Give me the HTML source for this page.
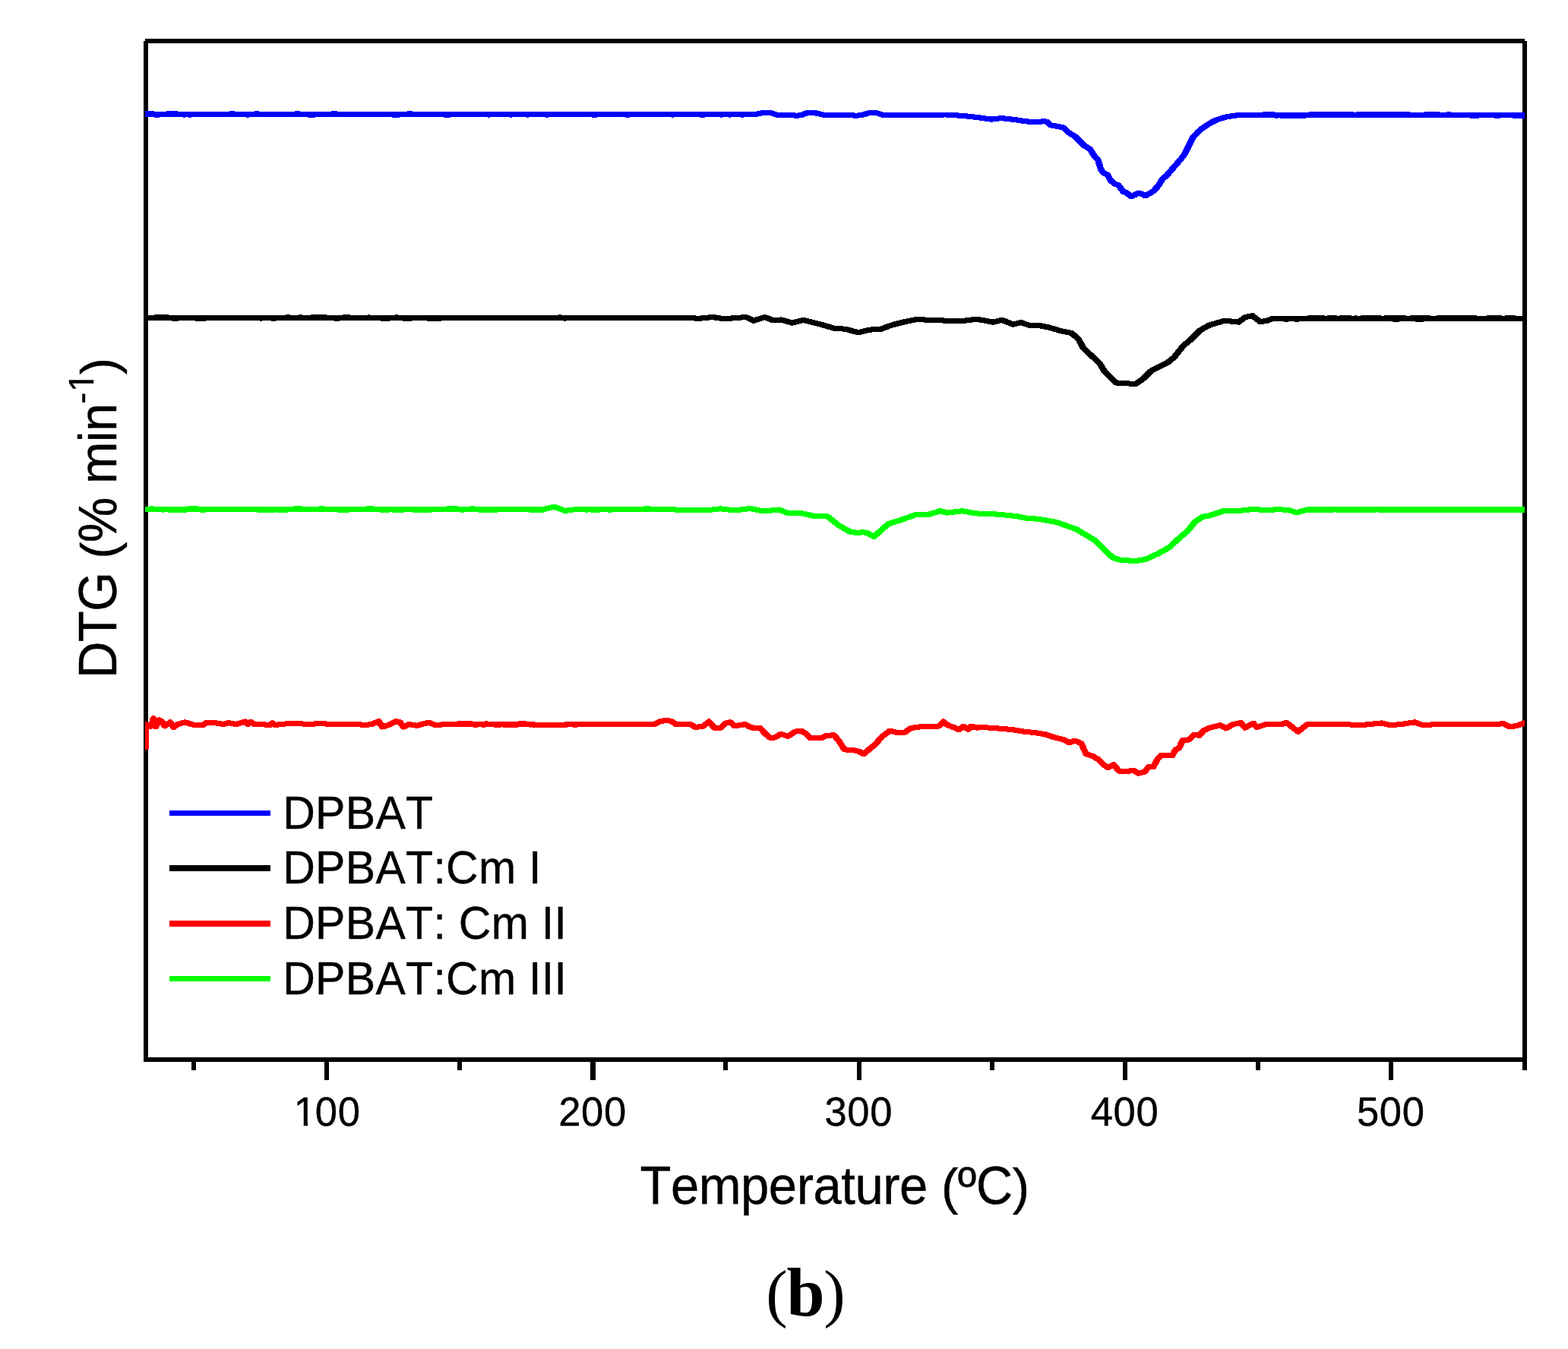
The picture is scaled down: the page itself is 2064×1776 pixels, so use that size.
<!DOCTYPE html>
<html lang="en">
<head>
<meta charset="utf-8">
<title>DTG curves (b)</title>
<style>
html,body{margin:0;padding:0;background:#fff;}
body{width:2064px;height:1776px;overflow:hidden;}
svg{display:block;}
text{font-family:"Liberation Sans",sans-serif;fill:#000;font-kerning:none;stroke:#000;stroke-width:0.4px;stroke-linejoin:round;}
text.cap{font-family:"Liberation Serif","DejaVu Serif",serif;stroke:none;}
</style>
</head>
<body>
<svg width="2064" height="1776" viewBox="0 0 2064 1776">
<rect x="0" y="0" width="2064" height="1776" fill="#fff"/>
<g fill="#000" shape-rendering="crispEdges">
<rect x="191" y="51" width="1816" height="6"/>
<rect x="189" y="54" width="6" height="1344"/>
<rect x="2004" y="54" width="6" height="1355"/>
<rect x="189" y="1392" width="1821" height="6"/>
<rect x="252" y="1395" width="6" height="14"/>
<rect x="427" y="1395" width="6" height="27"/>
<rect x="602" y="1395" width="6" height="14"/>
<rect x="777" y="1395" width="7" height="27"/>
<rect x="952" y="1395" width="6" height="14"/>
<rect x="1128" y="1395" width="6" height="27"/>
<rect x="1303" y="1395" width="6" height="14"/>
<rect x="1478" y="1395" width="6" height="27"/>
<rect x="1653" y="1395" width="6" height="14"/>
<rect x="1828" y="1395" width="6" height="27"/>
</g>
<clipPath id="one_tk"><path d="M-5,-52.60 H52.60 V-4.73 H18.18 V2 H12.93 V-4.73 H-5 Z"/></clipPath>
<clipPath id="one_sup"><path d="M-5,-44.70 H44.70 V-4.14 H15.49 V2 H10.94 V-4.14 H-5 Z"/></clipPath>
<clipPath id="plotclip"><rect x="191" y="57" width="1816" height="1335"/></clipPath>
<g shape-rendering="crispEdges" clip-path="url(#plotclip)">
<g fill="none" stroke="#0000ff" stroke-width="7" stroke-linejoin="round" stroke-linecap="round">
<polyline points="185,150.2 996,150.3 1005,148.4 1014,148.4 1022,151 1040,151 1048,152.4 1055,151.5 1063,148.4 1072,148.4 1084,151.3 1118,151.3 1127,152.4 1136,151 1145,148.4 1153,148.4 1162,151.3 1246,151 1267,152.4 1284,154.2 1305,157.1 1318,155.6 1337,157.7 1350,159.8 1362.4,160.7 1373.3,159.8 1377.9,160.2 1383.3,164.9 1390.3,166 1399.6,168 1407.4,175 1415.1,179.6 1427.5,192 1434.5,195.9 1439.9,204.4 1445.3,210.6 1449.2,223 1452.3,227.7 1457.8,230 1461.6,237 1466.3,241.6 1472.5,244 1478.7,252.5 1483.3,254 1488.8,258.7 1494.2,256.4 1498.8,254 1503.5,255.6 1507.4,257.9 1512.8,254.8 1518.2,251.7 1525.2,244 1529.8,236.2 1536,230.8 1545.3,219.9 1554.7,209.1 1559.3,202.9 1565.5,190.5 1570.2,181.2 1576.4,174.2 1582.6,168.8 1591.9,162.6 1601.2,157.9 1613.6,154 1629.1,151.7 1644.6,151.4 1660.1,151.4 1670,151.4 2012,151.4"/>
<polyline transform="translate(-0.7,0)" points="185,150.2 996,150.3 1005,148.4 1014,148.4 1022,151 1040,151 1048,152.4 1055,151.5 1063,148.4 1072,148.4 1084,151.3 1118,151.3 1127,152.4 1136,151 1145,148.4 1153,148.4 1162,151.3 1246,151 1267,152.4 1284,154.2 1305,157.1 1318,155.6 1337,157.7 1350,159.8 1362.4,160.7 1373.3,159.8 1377.9,160.2 1383.3,164.9 1390.3,166 1399.6,168 1407.4,175 1415.1,179.6 1427.5,192 1434.5,195.9 1439.9,204.4 1445.3,210.6 1449.2,223 1452.3,227.7 1457.8,230 1461.6,237 1466.3,241.6 1472.5,244 1478.7,252.5 1483.3,254 1488.8,258.7 1494.2,256.4 1498.8,254 1503.5,255.6 1507.4,257.9 1512.8,254.8 1518.2,251.7 1525.2,244 1529.8,236.2 1536,230.8 1545.3,219.9 1554.7,209.1 1559.3,202.9 1565.5,190.5 1570.2,181.2 1576.4,174.2 1582.6,168.8 1591.9,162.6 1601.2,157.9 1613.6,154 1629.1,151.7 1644.6,151.4 1660.1,151.4 1670,151.4 2012,151.4"/>
<polyline transform="translate(0.7,0)" points="185,150.2 996,150.3 1005,148.4 1014,148.4 1022,151 1040,151 1048,152.4 1055,151.5 1063,148.4 1072,148.4 1084,151.3 1118,151.3 1127,152.4 1136,151 1145,148.4 1153,148.4 1162,151.3 1246,151 1267,152.4 1284,154.2 1305,157.1 1318,155.6 1337,157.7 1350,159.8 1362.4,160.7 1373.3,159.8 1377.9,160.2 1383.3,164.9 1390.3,166 1399.6,168 1407.4,175 1415.1,179.6 1427.5,192 1434.5,195.9 1439.9,204.4 1445.3,210.6 1449.2,223 1452.3,227.7 1457.8,230 1461.6,237 1466.3,241.6 1472.5,244 1478.7,252.5 1483.3,254 1488.8,258.7 1494.2,256.4 1498.8,254 1503.5,255.6 1507.4,257.9 1512.8,254.8 1518.2,251.7 1525.2,244 1529.8,236.2 1536,230.8 1545.3,219.9 1554.7,209.1 1559.3,202.9 1565.5,190.5 1570.2,181.2 1576.4,174.2 1582.6,168.8 1591.9,162.6 1601.2,157.9 1613.6,154 1629.1,151.7 1644.6,151.4 1660.1,151.4 1670,151.4 2012,151.4"/>
</g>
<g fill="none" stroke="#000000" stroke-width="7" stroke-linejoin="round" stroke-linecap="round">
<polyline points="185,418.7 905,418.7 920.8,419.2 938.3,417.5 952.8,419.8 981.9,417.5 992,422.2 1006.6,417.5 1018.2,421.9 1028.4,421 1042.9,425.1 1057.4,421.3 1080.7,427.1 1098.1,432.3 1112.7,433.2 1130.1,437.8 1144.7,434.1 1159.2,433.5 1173.7,428 1191.2,423.6 1208.6,420.1 1226,421.9 1269.7,422.2 1285.6,420.1 1307.4,424.2 1319.1,421.3 1333.6,427.1 1343.8,424.5 1354,428 1365.5,428 1381,431.1 1396.5,435.7 1410.5,438.5 1419.8,446.6 1426,458.2 1438.4,469.8 1447.7,478.4 1453.9,489.2 1469.4,504 1481.8,504.4 1494.2,506 1505,498.5 1514.3,489.2 1520.5,485.3 1537.6,476.8 1545.3,470.6 1557.8,455.1 1567.1,447.4 1579.5,435 1591.9,428 1612,422.2 1630.6,424.1 1638.4,417.9 1648.4,415.6 1658.5,423.3 1667.2,422.7 1675.3,419.1 2012,419.1"/>
<polyline transform="translate(-0.7,0)" points="185,418.7 905,418.7 920.8,419.2 938.3,417.5 952.8,419.8 981.9,417.5 992,422.2 1006.6,417.5 1018.2,421.9 1028.4,421 1042.9,425.1 1057.4,421.3 1080.7,427.1 1098.1,432.3 1112.7,433.2 1130.1,437.8 1144.7,434.1 1159.2,433.5 1173.7,428 1191.2,423.6 1208.6,420.1 1226,421.9 1269.7,422.2 1285.6,420.1 1307.4,424.2 1319.1,421.3 1333.6,427.1 1343.8,424.5 1354,428 1365.5,428 1381,431.1 1396.5,435.7 1410.5,438.5 1419.8,446.6 1426,458.2 1438.4,469.8 1447.7,478.4 1453.9,489.2 1469.4,504 1481.8,504.4 1494.2,506 1505,498.5 1514.3,489.2 1520.5,485.3 1537.6,476.8 1545.3,470.6 1557.8,455.1 1567.1,447.4 1579.5,435 1591.9,428 1612,422.2 1630.6,424.1 1638.4,417.9 1648.4,415.6 1658.5,423.3 1667.2,422.7 1675.3,419.1 2012,419.1"/>
<polyline transform="translate(0.7,0)" points="185,418.7 905,418.7 920.8,419.2 938.3,417.5 952.8,419.8 981.9,417.5 992,422.2 1006.6,417.5 1018.2,421.9 1028.4,421 1042.9,425.1 1057.4,421.3 1080.7,427.1 1098.1,432.3 1112.7,433.2 1130.1,437.8 1144.7,434.1 1159.2,433.5 1173.7,428 1191.2,423.6 1208.6,420.1 1226,421.9 1269.7,422.2 1285.6,420.1 1307.4,424.2 1319.1,421.3 1333.6,427.1 1343.8,424.5 1354,428 1365.5,428 1381,431.1 1396.5,435.7 1410.5,438.5 1419.8,446.6 1426,458.2 1438.4,469.8 1447.7,478.4 1453.9,489.2 1469.4,504 1481.8,504.4 1494.2,506 1505,498.5 1514.3,489.2 1520.5,485.3 1537.6,476.8 1545.3,470.6 1557.8,455.1 1567.1,447.4 1579.5,435 1591.9,428 1612,422.2 1630.6,424.1 1638.4,417.9 1648.4,415.6 1658.5,423.3 1667.2,422.7 1675.3,419.1 2012,419.1"/>
</g>
<g fill="none" stroke="#00ff00" stroke-width="7" stroke-linejoin="round" stroke-linecap="round">
<polyline points="185,670.7 715,670.7 729.2,667.2 743.8,672.4 756.9,670.7 848.1,670.1 929.5,671.9 948.4,669.8 967.3,671.9 987.7,669.5 1005.1,673 1025.5,671 1037.1,675.6 1054.5,675.6 1072,679.4 1089.4,680 1104,691.6 1118.5,699.8 1128.7,701.8 1135.9,700.6 1141.7,701.8 1150.5,706.5 1169.4,689.6 1188.3,683.8 1205.7,677.4 1220.2,678 1237.7,672.7 1246.4,675.1 1266.7,672.7 1284.2,675.9 1313.3,677.1 1336.5,679.4 1350,682 1367,683.3 1390.3,687.4 1416.7,696.7 1441.5,711.5 1457,727 1464.7,734 1474,737.1 1494.2,738.6 1508.1,736.3 1523.6,729.3 1539.1,720.8 1551.6,709.1 1564,698.3 1573.3,686.7 1582.6,680.5 1591.9,678.9 1610.5,672.7 1629.1,672.7 1644.6,670.9 1657,670.9 1663.2,671.9 1681.4,670.7 1695.6,671.3 1706.8,674.8 1722.1,670.7 2012,670.7"/>
<polyline transform="translate(-0.7,0)" points="185,670.7 715,670.7 729.2,667.2 743.8,672.4 756.9,670.7 848.1,670.1 929.5,671.9 948.4,669.8 967.3,671.9 987.7,669.5 1005.1,673 1025.5,671 1037.1,675.6 1054.5,675.6 1072,679.4 1089.4,680 1104,691.6 1118.5,699.8 1128.7,701.8 1135.9,700.6 1141.7,701.8 1150.5,706.5 1169.4,689.6 1188.3,683.8 1205.7,677.4 1220.2,678 1237.7,672.7 1246.4,675.1 1266.7,672.7 1284.2,675.9 1313.3,677.1 1336.5,679.4 1350,682 1367,683.3 1390.3,687.4 1416.7,696.7 1441.5,711.5 1457,727 1464.7,734 1474,737.1 1494.2,738.6 1508.1,736.3 1523.6,729.3 1539.1,720.8 1551.6,709.1 1564,698.3 1573.3,686.7 1582.6,680.5 1591.9,678.9 1610.5,672.7 1629.1,672.7 1644.6,670.9 1657,670.9 1663.2,671.9 1681.4,670.7 1695.6,671.3 1706.8,674.8 1722.1,670.7 2012,670.7"/>
<polyline transform="translate(0.7,0)" points="185,670.7 715,670.7 729.2,667.2 743.8,672.4 756.9,670.7 848.1,670.1 929.5,671.9 948.4,669.8 967.3,671.9 987.7,669.5 1005.1,673 1025.5,671 1037.1,675.6 1054.5,675.6 1072,679.4 1089.4,680 1104,691.6 1118.5,699.8 1128.7,701.8 1135.9,700.6 1141.7,701.8 1150.5,706.5 1169.4,689.6 1188.3,683.8 1205.7,677.4 1220.2,678 1237.7,672.7 1246.4,675.1 1266.7,672.7 1284.2,675.9 1313.3,677.1 1336.5,679.4 1350,682 1367,683.3 1390.3,687.4 1416.7,696.7 1441.5,711.5 1457,727 1464.7,734 1474,737.1 1494.2,738.6 1508.1,736.3 1523.6,729.3 1539.1,720.8 1551.6,709.1 1564,698.3 1573.3,686.7 1582.6,680.5 1591.9,678.9 1610.5,672.7 1629.1,672.7 1644.6,670.9 1657,670.9 1663.2,671.9 1681.4,670.7 1695.6,671.3 1706.8,674.8 1722.1,670.7 2012,670.7"/>
</g>
<g fill="none" stroke="#ff0000" stroke-width="7" stroke-linejoin="round" stroke-linecap="round">
<polyline points="191.7,983.9 191.7,953.5 195.5,956.4 199,956.2 201.9,945.7 205.2,956.6 209.4,947.9 213,949.9 217,955.9 224,950.8 228.5,957.6 234,953.5 243.5,950.8 252,953.5 258,955.0 267.2,954.7 271.8,951.3 282.7,951.6 293.5,953.5 301.3,951.6 310.6,953.5 323,950.0 326.1,953.5 330,950.3 334.6,953.5 346.2,953.5 354.8,955.0 358.6,951.9 362.5,954.7 367.9,953.5 386.6,952.3 406.7,953.5 423.8,952.3 433.1,953.5 473.4,953.5 478,955.0 488.9,953.5 498.5,949.7 503.2,957.0 510.2,955.0 521,949.7 526.4,950.8 531.1,957.0 538.1,953.5 548.9,955.4 555.1,953.5 564.4,951.3 573.7,954.7 586.1,953.5 598.5,953.5 610.9,953.5 629.5,953.5 683.8,953.5 730.3,954.7 753.6,953.5 810,953.5 862,953.5 868.2,950.0 877.5,948.2 883.7,949.7 889.9,953.5 908.5,953.5 915.5,957.5 925.6,956.2 933.3,950.0 940.3,958.1 948.8,958.1 955,952.3 961.2,950.8 967.4,955.9 980.6,953.5 986,956.5 993.8,959.0 1000,958.1 1007.8,966.3 1014,971.4 1020.2,970.9 1027.9,966.3 1037.2,969.4 1046.5,963.2 1054.3,962.1 1060.5,965.5 1066.7,971.4 1082.2,971.4 1088.4,968.3 1097.7,967.8 1103.9,974.8 1111.6,986.9 1123.3,987.5 1131,989.5 1137.2,992.6 1145,985.7 1152.7,979.5 1160.5,970.2 1171.3,962.1 1180.6,964.3 1191.5,964.0 1199.2,958.5 1213.2,956.5 1227.1,957.0 1236.4,955.9 1241.9,950.0 1247.3,954.7 1255,957.5 1262,960.9 1268.2,956.2 1274.4,960.1 1278.3,956.2 1286,958.1 1293.8,957.5 1314,959.0 1332.6,960.6 1348.1,963.2 1363.6,964.7 1376,966.8 1386.8,970.5 1400.5,973.8 1407.5,977.9 1414.8,975.1 1423.4,978.7 1429.6,992.6 1438.9,995.7 1446.7,1000.4 1452.9,1007.1 1458.3,1010.5 1466,1006.6 1473,1015.1 1479.2,1015.9 1488.5,1014.8 1493,1014.6 1498.6,1018.2 1507.1,1015.9 1511.8,1009.7 1518,1009.7 1524.2,998.8 1528.8,994.2 1542.8,995.0 1547.4,987.2 1552.1,984.9 1556.7,974.8 1564.5,974.0 1572.2,967.1 1578.4,968.3 1584.7,961.6 1592.4,958.1 1606.4,954.7 1614.1,959.0 1623.4,953.5 1633.5,951.6 1638.9,958.1 1649.8,952.3 1654.4,957.5 1666.8,953.5 1687,953.5 1693.5,951.4 1708.6,963.2 1721,953.5 1748.9,953.5 1767.5,953.5 1790.8,954.7 1818.7,951.9 1829.5,954.7 1845,953.5 1862.1,950.8 1872.9,954.7 1891.6,953.5 1938.1,953.5 1972.2,953.5 1978.4,952.3 1987.7,957.0 1997,955.4 2006.3,951.9 2012,951.9"/>
<polyline transform="translate(-0.7,0)" points="191.7,983.9 191.7,953.5 195.5,956.4 199,956.2 201.9,945.7 205.2,956.6 209.4,947.9 213,949.9 217,955.9 224,950.8 228.5,957.6 234,953.5 243.5,950.8 252,953.5 258,955.0 267.2,954.7 271.8,951.3 282.7,951.6 293.5,953.5 301.3,951.6 310.6,953.5 323,950.0 326.1,953.5 330,950.3 334.6,953.5 346.2,953.5 354.8,955.0 358.6,951.9 362.5,954.7 367.9,953.5 386.6,952.3 406.7,953.5 423.8,952.3 433.1,953.5 473.4,953.5 478,955.0 488.9,953.5 498.5,949.7 503.2,957.0 510.2,955.0 521,949.7 526.4,950.8 531.1,957.0 538.1,953.5 548.9,955.4 555.1,953.5 564.4,951.3 573.7,954.7 586.1,953.5 598.5,953.5 610.9,953.5 629.5,953.5 683.8,953.5 730.3,954.7 753.6,953.5 810,953.5 862,953.5 868.2,950.0 877.5,948.2 883.7,949.7 889.9,953.5 908.5,953.5 915.5,957.5 925.6,956.2 933.3,950.0 940.3,958.1 948.8,958.1 955,952.3 961.2,950.8 967.4,955.9 980.6,953.5 986,956.5 993.8,959.0 1000,958.1 1007.8,966.3 1014,971.4 1020.2,970.9 1027.9,966.3 1037.2,969.4 1046.5,963.2 1054.3,962.1 1060.5,965.5 1066.7,971.4 1082.2,971.4 1088.4,968.3 1097.7,967.8 1103.9,974.8 1111.6,986.9 1123.3,987.5 1131,989.5 1137.2,992.6 1145,985.7 1152.7,979.5 1160.5,970.2 1171.3,962.1 1180.6,964.3 1191.5,964.0 1199.2,958.5 1213.2,956.5 1227.1,957.0 1236.4,955.9 1241.9,950.0 1247.3,954.7 1255,957.5 1262,960.9 1268.2,956.2 1274.4,960.1 1278.3,956.2 1286,958.1 1293.8,957.5 1314,959.0 1332.6,960.6 1348.1,963.2 1363.6,964.7 1376,966.8 1386.8,970.5 1400.5,973.8 1407.5,977.9 1414.8,975.1 1423.4,978.7 1429.6,992.6 1438.9,995.7 1446.7,1000.4 1452.9,1007.1 1458.3,1010.5 1466,1006.6 1473,1015.1 1479.2,1015.9 1488.5,1014.8 1493,1014.6 1498.6,1018.2 1507.1,1015.9 1511.8,1009.7 1518,1009.7 1524.2,998.8 1528.8,994.2 1542.8,995.0 1547.4,987.2 1552.1,984.9 1556.7,974.8 1564.5,974.0 1572.2,967.1 1578.4,968.3 1584.7,961.6 1592.4,958.1 1606.4,954.7 1614.1,959.0 1623.4,953.5 1633.5,951.6 1638.9,958.1 1649.8,952.3 1654.4,957.5 1666.8,953.5 1687,953.5 1693.5,951.4 1708.6,963.2 1721,953.5 1748.9,953.5 1767.5,953.5 1790.8,954.7 1818.7,951.9 1829.5,954.7 1845,953.5 1862.1,950.8 1872.9,954.7 1891.6,953.5 1938.1,953.5 1972.2,953.5 1978.4,952.3 1987.7,957.0 1997,955.4 2006.3,951.9 2012,951.9"/>
<polyline transform="translate(0.7,0)" points="191.7,983.9 191.7,953.5 195.5,956.4 199,956.2 201.9,945.7 205.2,956.6 209.4,947.9 213,949.9 217,955.9 224,950.8 228.5,957.6 234,953.5 243.5,950.8 252,953.5 258,955.0 267.2,954.7 271.8,951.3 282.7,951.6 293.5,953.5 301.3,951.6 310.6,953.5 323,950.0 326.1,953.5 330,950.3 334.6,953.5 346.2,953.5 354.8,955.0 358.6,951.9 362.5,954.7 367.9,953.5 386.6,952.3 406.7,953.5 423.8,952.3 433.1,953.5 473.4,953.5 478,955.0 488.9,953.5 498.5,949.7 503.2,957.0 510.2,955.0 521,949.7 526.4,950.8 531.1,957.0 538.1,953.5 548.9,955.4 555.1,953.5 564.4,951.3 573.7,954.7 586.1,953.5 598.5,953.5 610.9,953.5 629.5,953.5 683.8,953.5 730.3,954.7 753.6,953.5 810,953.5 862,953.5 868.2,950.0 877.5,948.2 883.7,949.7 889.9,953.5 908.5,953.5 915.5,957.5 925.6,956.2 933.3,950.0 940.3,958.1 948.8,958.1 955,952.3 961.2,950.8 967.4,955.9 980.6,953.5 986,956.5 993.8,959.0 1000,958.1 1007.8,966.3 1014,971.4 1020.2,970.9 1027.9,966.3 1037.2,969.4 1046.5,963.2 1054.3,962.1 1060.5,965.5 1066.7,971.4 1082.2,971.4 1088.4,968.3 1097.7,967.8 1103.9,974.8 1111.6,986.9 1123.3,987.5 1131,989.5 1137.2,992.6 1145,985.7 1152.7,979.5 1160.5,970.2 1171.3,962.1 1180.6,964.3 1191.5,964.0 1199.2,958.5 1213.2,956.5 1227.1,957.0 1236.4,955.9 1241.9,950.0 1247.3,954.7 1255,957.5 1262,960.9 1268.2,956.2 1274.4,960.1 1278.3,956.2 1286,958.1 1293.8,957.5 1314,959.0 1332.6,960.6 1348.1,963.2 1363.6,964.7 1376,966.8 1386.8,970.5 1400.5,973.8 1407.5,977.9 1414.8,975.1 1423.4,978.7 1429.6,992.6 1438.9,995.7 1446.7,1000.4 1452.9,1007.1 1458.3,1010.5 1466,1006.6 1473,1015.1 1479.2,1015.9 1488.5,1014.8 1493,1014.6 1498.6,1018.2 1507.1,1015.9 1511.8,1009.7 1518,1009.7 1524.2,998.8 1528.8,994.2 1542.8,995.0 1547.4,987.2 1552.1,984.9 1556.7,974.8 1564.5,974.0 1572.2,967.1 1578.4,968.3 1584.7,961.6 1592.4,958.1 1606.4,954.7 1614.1,959.0 1623.4,953.5 1633.5,951.6 1638.9,958.1 1649.8,952.3 1654.4,957.5 1666.8,953.5 1687,953.5 1693.5,951.4 1708.6,963.2 1721,953.5 1748.9,953.5 1767.5,953.5 1790.8,954.7 1818.7,951.9 1829.5,954.7 1845,953.5 1862.1,950.8 1872.9,954.7 1891.6,953.5 1938.1,953.5 1972.2,953.5 1978.4,952.3 1987.7,957.0 1997,955.4 2006.3,951.9 2012,951.9"/>
</g>
<path fill="#0000ff" d="M191,146h12v1h-12zM219,146h15v1h-15zM302,146h7v1h-7zM335,146h6v1h-6zM388,146h7v1h-7zM436,146h8v1h-8zM536,146h7v1h-7zM203,154h7v1h-7zM241,154h3v1h-3zM248,154h4v1h-4zM324,154h4v1h-4zM405,154h10v1h-10zM516,154h10v1h-10zM584,154h9v1h-9zM642,154h3v1h-3zM671,154h3v1h-3zM693,154h3v1h-3zM718,154h4v1h-4zM779,154h7v1h-7zM823,154h6v1h-6zM884,154h3v1h-3zM921,154h7v1h-7zM948,154h3v1h-3zM959,154h3v1h-3zM975,154h4v1h-4zM1662,147h16v1h-16zM1723,147h59v1h-59zM1785,147h71v1h-71zM1875,147h20v1h-20zM1904,147h6v1h-6zM1678,155h5v1h-5zM1685,155h34v1h-34zM1935,155h12v1h-12zM1967,155h8v1h-8zM1991,155h16v1h-16z"/>
<path fill="#000000" d="M203,414h19v1h-19zM376,414h6v1h-6zM393,414h5v1h-5zM409,414h21v1h-21zM451,414h10v1h-10zM484,414h3v1h-3zM520,414h4v1h-4zM735,414h4v1h-4zM226,422h9v1h-9zM257,422h14v1h-14zM342,422h3v1h-3zM357,422h6v1h-6zM440,422h7v1h-7zM501,422h12v1h-12zM530,422h12v1h-12zM562,422h19v1h-19zM742,422h3v1h-3zM1721,415h23v1h-23zM1747,415h13v1h-13zM1763,415h16v1h-16zM1783,415h3v1h-3zM1791,415h27v1h-27zM1822,415h29v1h-29zM1856,415h27v1h-27zM1891,415h53v1h-53zM1957,415h20v1h-20zM1981,415h14v1h-14zM1690,423h6v1h-6zM1704,423h6v1h-6zM1833,423h9v1h-9zM1863,423h11v1h-11z"/>
<path fill="#ff0000" d="M602,949h20v1h-20zM638,949h4v1h-4zM682,949h11v1h-11zM623,957h6v1h-6zM634,957h5v1h-5zM650,957h10v1h-10zM662,957h20v1h-20zM697,957h2v1h-2zM700,957h9v1h-9zM723,957h24v1h-24zM754,957h6v1h-6z"/>
<path fill="#00ff00" d="M197,666h5v1h-5zM247,666h14v1h-14zM386,666h12v1h-12zM420,666h7v1h-7zM482,666h10v1h-10zM588,666h15v1h-15zM619,666h6v1h-6zM848,666h8v1h-8zM213,674h3v1h-3zM221,674h25v1h-25zM263,674h8v1h-8zM338,674h25v1h-25zM364,674h15v1h-15zM444,674h16v1h-16zM500,674h13v1h-13zM516,674h16v1h-16zM543,674h25v1h-25zM606,674h5v1h-5zM630,674h25v1h-25zM696,674h20v1h-20zM770,674h4v1h-4zM777,674h13v1h-13zM800,674h6v1h-6zM920,674h12v1h-12zM1722,674h34v1h-34zM1758,674h54v1h-54zM1814,674h193v1h-193z"/>
</g>
<g shape-rendering="crispEdges">
<rect x="223" y="1067" width="133" height="7" fill="#0000ff"/>
<rect x="223" y="1139" width="133" height="8" fill="#000000"/>
<rect x="223" y="1212" width="133" height="8" fill="#ff0000"/>
<rect x="223" y="1285" width="133" height="7" fill="#00ff00"/>
</g>
<g>
<text transform="translate(372.2,1091.05) scale(1,1.036)" font-size="59" letter-spacing="0.3" xml:space="preserve">DPBAT</text>
<text transform="translate(372.2,1163.2) scale(1,1.036)" font-size="59" letter-spacing="0.3" xml:space="preserve">DPBAT:Cm I</text>
<text transform="translate(372.2,1236.3) scale(1,1.036)" font-size="59" letter-spacing="0.3" xml:space="preserve">DPBAT: Cm II</text>
<text transform="translate(372.2,1308.7) scale(1,1.036)" font-size="59" letter-spacing="0.3" xml:space="preserve">DPBAT:Cm III</text>
</g>
<g>
<g><g transform="translate(386.82,1481.9) scale(1,1.02)"><text clip-path="url(#one_tk)" font-size="52.6">1</text></g><text transform="translate(414.87,1481.9) scale(1,1.02)" font-size="52.6" letter-spacing="0.6">00</text></g>
<text transform="translate(735.27,1481.9) scale(1,1.02)" font-size="52.6" letter-spacing="0.6">200</text>
<text transform="translate(1085.52,1481.9) scale(1,1.02)" font-size="52.6" letter-spacing="0.6">300</text>
<text transform="translate(1435.77,1481.9) scale(1,1.02)" font-size="52.6" letter-spacing="0.6">400</text>
<text transform="translate(1786.02,1481.9) scale(1,1.02)" font-size="52.6" letter-spacing="0.6">500</text>
</g>
<g transform="translate(842.5,1584.85)"><text transform="translate(0.00,0) scale(1,1.04)" font-size="67" letter-spacing="-0.47" xml:space="preserve">Temperature </text><text transform="translate(396.52,0) scale(1,1)" font-size="67" letter-spacing="-0.47" xml:space="preserve">(</text><text transform="translate(418.37,0) scale(1,1.04)" font-size="67" letter-spacing="-0.47" xml:space="preserve">ºC</text><text transform="translate(490.28,0) scale(1,1)" font-size="67" letter-spacing="-0.47" xml:space="preserve">)</text></g>
<g transform="translate(153.1,893) rotate(-90)"><text transform="translate(0.00,0) scale(1,1.04)" font-size="67" letter-spacing="-0.7" xml:space="preserve">DTG </text><text transform="translate(157.24,0) scale(1,1)" font-size="67" letter-spacing="-0.7" xml:space="preserve">(</text><text transform="translate(178.85,0) scale(1,1.04)" font-size="67" letter-spacing="-0.7" xml:space="preserve">% min</text><text transform="translate(361.50,-30.1) scale(1,1.04)" font-size="44.7" letter-spacing="-0.7" xml:space="preserve">-</text><g transform="translate(377.19,-30.1) scale(1,1.04)"><text clip-path="url(#one_sup)" font-size="44.7">1</text></g><text transform="translate(399.85,0) scale(1,1)" font-size="67" letter-spacing="-0.7" xml:space="preserve">)</text></g>
<g><text class="cap" x="1008.3" y="1730.7" font-size="85.3">(</text><text class="cap" x="1035.5" y="1732" font-size="90" font-weight="bold">b</text><text class="cap" x="1084.2" y="1730.7" font-size="85.3">)</text></g>
</svg>
</body>
</html>
